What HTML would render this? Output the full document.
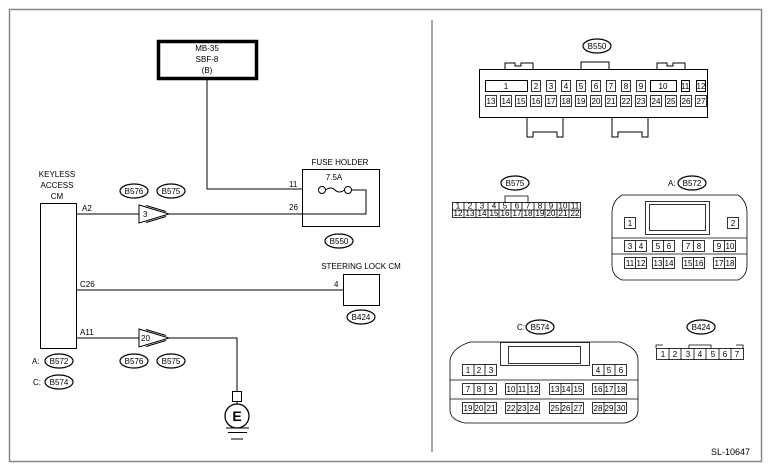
<!DOCTYPE html>
<html><head><meta charset="utf-8"><style>
html,body{margin:0;padding:0;background:#fff;width:772px;height:472px;overflow:hidden}
svg{display:block}
text{font-family:"Liberation Sans",sans-serif;font-size:8px;fill:#000}
</style></head><body>
<svg width="772" height="472" viewBox="0 0 772 472" xmlns="http://www.w3.org/2000/svg">
<rect x="9.5" y="9.5" width="752" height="452" fill="none" stroke="#888" stroke-width="1.5"/>
<line x1="432" y1="20" x2="432" y2="452" stroke="#888" stroke-width="1.5"/>
<g stroke="#000" fill="none" stroke-width="1">
<rect x="158.5" y="41.5" width="98" height="37" stroke-width="3.5"/>
<polyline points="207,80 207,189 303,189"/>
<rect x="302.5" y="169.5" width="77" height="57"/>
<circle cx="322" cy="190" r="3.5"/><circle cx="348" cy="190" r="3.5"/>
<path d="M325.5,190 Q331,186 335,190 T344.5,190"/>
<polyline points="351.5,190 366,190 366,214 303,214"/>
<line x1="76" y1="214" x2="139" y2="214"/>
<line x1="169" y1="214" x2="303" y2="214"/>
<polygon points="139,205 169,214 139,223"/>
<polyline points="146,205.5 166,211.5"/><polyline points="146,222.5 166,216.5"/>
<rect x="40.5" y="203.5" width="36" height="145"/>
<line x1="76" y1="290" x2="343" y2="290"/>
<rect x="343.5" y="274.5" width="36" height="31"/>
<line x1="76" y1="338" x2="139" y2="338"/>
<polygon points="139,329 169,338 139,347"/>
<polyline points="146,329.5 166,335.5"/><polyline points="146,346.5 166,340.5"/>
<polyline points="169,338 237,338 237,391"/>
<rect x="232.5" y="391.5" width="9" height="10"/>
<line x1="237" y1="401" x2="237" y2="404"/>
<circle cx="237" cy="416" r="12" stroke-width="1.3"/>
<line x1="226" y1="428" x2="249" y2="428"/><line x1="228" y1="432.5" x2="247" y2="432.5"/><line x1="231" y1="439" x2="243" y2="439"/>
<g stroke-width="1.2">
<ellipse cx="134" cy="191" rx="14" ry="7"/><ellipse cx="171" cy="191" rx="14" ry="7"/>
<ellipse cx="339" cy="241" rx="14" ry="7"/>
<ellipse cx="361" cy="317" rx="14" ry="7"/>
<ellipse cx="134" cy="361" rx="14" ry="7"/><ellipse cx="171" cy="361" rx="14" ry="7"/>
<ellipse cx="59" cy="361" rx="14" ry="7"/><ellipse cx="59" cy="382" rx="14" ry="7"/>
<ellipse cx="597" cy="46" rx="14" ry="7"/>
<ellipse cx="515" cy="183" rx="14" ry="7"/>
<ellipse cx="692" cy="183" rx="14" ry="7"/>
<ellipse cx="540" cy="327" rx="14" ry="7"/>
<ellipse cx="701" cy="327" rx="14" ry="7"/>
</g>
<rect x="479.5" y="69.5" width="228" height="48"/>
<polyline points="505,69 505,63 515,63 515,66 521,66 521,63 533,63 533,69"/>
<polyline points="581,69 581,62 609,62 609,69"/>
<polyline points="657,69 657,63 667,63 667,66 673,66 673,63 685,63 685,69"/>
<polyline points="527,117 527,137 533,137 533,132 557,132 557,137 563,137 563,117"/>
<polyline points="612,117 612,137 618,137 618,132 642,132 642,137 648,137 648,117"/>
<rect x="485.5" y="80.5" width="42" height="11"/>
<rect x="650.5" y="80.5" width="26" height="11"/>
<rect x="681.5" y="80.5" width="8" height="11"/><rect x="696.5" y="80.5" width="9" height="11"/>
</g>
<g stroke="#000" fill="none" stroke-width="0.8">
<rect x="531.5" y="80.5" width="9" height="11"/><rect x="546.5" y="80.5" width="9" height="11"/><rect x="561.5" y="80.5" width="9" height="11"/><rect x="576.5" y="80.5" width="9" height="11"/><rect x="591.5" y="80.5" width="9" height="11"/><rect x="606.5" y="80.5" width="9" height="11"/><rect x="621.5" y="80.5" width="9" height="11"/><rect x="636.5" y="80.5" width="9" height="11"/>
<rect x="485.5" y="95.5" width="11" height="11"/><rect x="500.5" y="95.5" width="11" height="11"/><rect x="515.5" y="95.5" width="11" height="11"/><rect x="530.5" y="95.5" width="11" height="11"/><rect x="545.5" y="95.5" width="11" height="11"/><rect x="560.5" y="95.5" width="11" height="11"/><rect x="575.5" y="95.5" width="11" height="11"/><rect x="590.5" y="95.5" width="11" height="11"/><rect x="605.5" y="95.5" width="11" height="11"/><rect x="620.5" y="95.5" width="11" height="11"/><rect x="635.5" y="95.5" width="11" height="11"/><rect x="650.5" y="95.5" width="11" height="11"/><rect x="665.5" y="95.5" width="11" height="11"/><rect x="680.5" y="95.5" width="11" height="11"/><rect x="695.5" y="95.5" width="11" height="11"/>
<rect x="452.5" y="202.5" width="128" height="15"/>
<line x1="452" y1="210" x2="580" y2="210"/>
<path d="M464,202V217M476,202V217M488,202V217M499,202V217M511,202V217M522,202V217M534,202V217M545,202V217M557,202V217M569,202V217"/>
<polyline points="505,202 505,196 528,196 528,202"/>
<path d="M622,195 L738,195 Q747,201 747,213 L747,265 Q747,276 738,280 L622,280 Q612,276 612,265 L612,213 Q612,201 622,195 Z"/>
<rect x="645.5" y="201.5" width="64" height="33"/><rect x="649.5" y="204.5" width="56" height="26"/>
<line x1="612" y1="238" x2="747" y2="238"/><line x1="612" y1="254" x2="747" y2="254"/>
<rect x="624.5" y="217.5" width="11" height="11"/><rect x="727.5" y="217.5" width="11" height="11"/>
<rect x="624.5" y="240.5" width="22" height="11"/><line x1="635.5" y1="240" x2="635.5" y2="252"/>
<rect x="652.5" y="240.5" width="22" height="11"/><line x1="663.5" y1="240" x2="663.5" y2="252"/>
<rect x="682.5" y="240.5" width="22" height="11"/><line x1="693.5" y1="240" x2="693.5" y2="252"/>
<rect x="713.5" y="240.5" width="22" height="11"/><line x1="724.5" y1="240" x2="724.5" y2="252"/>
<rect x="624.5" y="257.5" width="22" height="11"/><line x1="635.5" y1="257" x2="635.5" y2="269"/>
<rect x="652.5" y="257.5" width="22" height="11"/><line x1="663.5" y1="257" x2="663.5" y2="269"/>
<rect x="682.5" y="257.5" width="22" height="11"/><line x1="693.5" y1="257" x2="693.5" y2="269"/>
<rect x="713.5" y="257.5" width="22" height="11"/><line x1="724.5" y1="257" x2="724.5" y2="269"/>
<path d="M470,342 L620,342 Q638,348 638,360 L638,410 Q638,420 625,423 L465,423 Q450,420 450,410 L450,360 Q452,348 470,342 Z"/>
<rect x="500.5" y="342.5" width="89" height="23"/><rect x="508.5" y="346.5" width="72" height="17"/>
<line x1="450" y1="380" x2="638" y2="380"/><line x1="450" y1="399" x2="638" y2="399"/>
<rect x="462.5" y="364.5" width="34" height="11"/><path d="M474,364V376M485,364V376"/>
<rect x="592.5" y="364.5" width="34" height="11"/><path d="M604,364V376M615,364V376"/>
<rect x="462.5" y="383.5" width="34" height="11"/><path d="M474,383V395M485,383V395"/>
<rect x="505.5" y="383.5" width="34" height="11"/><path d="M517,383V395M528,383V395"/>
<rect x="549.5" y="383.5" width="34" height="11"/><path d="M561,383V395M572,383V395"/>
<rect x="592.5" y="383.5" width="34" height="11"/><path d="M604,383V395M615,383V395"/>
<rect x="462.5" y="402.5" width="34" height="11"/><path d="M474,402V414M485,402V414"/>
<rect x="505.5" y="402.5" width="34" height="11"/><path d="M517,402V414M528,402V414"/>
<rect x="549.5" y="402.5" width="34" height="11"/><path d="M561,402V414M572,402V414"/>
<rect x="592.5" y="402.5" width="34" height="11"/><path d="M604,402V414M615,402V414"/>
<rect x="656.5" y="348.5" width="87" height="11"/>
<path d="M669,348V360M681,348V360M694,348V360M706,348V360M719,348V360M731,348V360"/>
<polyline points="689,348 689,345 711,345 711,348"/>
<polyline points="656,348 656,345 663,345"/><polyline points="736,345 743,345 743,348"/>
</g>
<g text-anchor="middle">
<text x="207" y="51">MB-35</text><text x="207" y="62">SBF-8</text><text x="207" y="73">(B)</text>
<text x="340" y="165">FUSE HOLDER</text><text x="334" y="180">7.5A</text>
<text x="57" y="177">KEYLESS</text><text x="57" y="188">ACCESS</text><text x="57" y="199">CM</text>
<text x="361" y="269">STEERING LOCK CM</text>
<text x="134" y="194">B576</text><text x="171" y="194">B575</text>
<text x="339" y="244">B550</text><text x="361" y="320">B424</text>
<text x="134" y="364">B576</text><text x="171" y="364">B575</text>
<text x="59" y="364">B572</text><text x="59" y="385">B574</text>
<text x="237" y="421" style="font-size:14px;font-weight:bold">E</text>
<text x="597" y="49">B550</text><text x="515" y="186">B575</text><text x="692" y="186">B572</text>
<text x="540" y="330">B574</text><text x="701" y="330">B424</text>
</g>
<text x="82" y="211">A2</text><text x="80" y="287">C26</text><text x="80" y="335">A11</text>
<text x="289" y="187">11</text><text x="289" y="210">26</text><text x="334" y="287">4</text>
<text x="143" y="217">3</text><text x="141" y="341">20</text>
<text x="32" y="364">A:</text><text x="33" y="385">C:</text>
<text x="668" y="186">A:</text><text x="517" y="330">C:</text>
<text x="711" y="455" style="font-size:9px">SL-10647</text>
<g text-anchor="middle" style="font-size:7px">
<text x="506" y="89">1</text><text x="536" y="89">2</text><text x="551" y="89">3</text><text x="566" y="89">4</text><text x="581" y="89">5</text><text x="596" y="89">6</text><text x="611" y="89">7</text><text x="626" y="89">8</text><text x="641" y="89">9</text><text x="663" y="89">10</text><text x="685" y="89">11</text><text x="701" y="89">12</text>
<text x="491" y="104">13</text><text x="506" y="104">14</text><text x="521" y="104">15</text><text x="536" y="104">16</text><text x="551" y="104">17</text><text x="566" y="104">18</text><text x="581" y="104">19</text><text x="596" y="104">20</text><text x="611" y="104">21</text><text x="626" y="104">22</text><text x="641" y="104">23</text><text x="656" y="104">24</text><text x="671" y="104">25</text><text x="686" y="104">26</text><text x="701" y="104">27</text>
<text x="630" y="226">1</text><text x="733" y="226">2</text>
<text x="630" y="249">3</text><text x="641" y="249">4</text><text x="658" y="249">5</text><text x="669" y="249">6</text><text x="688" y="249">7</text><text x="699" y="249">8</text><text x="719" y="249">9</text><text x="730" y="249">10</text>
<text x="630" y="266">11</text><text x="641" y="266">12</text><text x="658" y="266">13</text><text x="669" y="266">14</text><text x="688" y="266">15</text><text x="699" y="266">16</text><text x="719" y="266">17</text><text x="730" y="266">18</text>
<text x="468" y="373">1</text><text x="479" y="373">2</text><text x="491" y="373">3</text><text x="598" y="373">4</text><text x="609" y="373">5</text><text x="621" y="373">6</text>
<text x="468" y="392">7</text><text x="479" y="392">8</text><text x="491" y="392">9</text><text x="511" y="392">10</text><text x="522" y="392">11</text><text x="534" y="392">12</text><text x="555" y="392">13</text><text x="566" y="392">14</text><text x="578" y="392">15</text><text x="598" y="392">16</text><text x="609" y="392">17</text><text x="621" y="392">18</text>
<text x="468" y="411">19</text><text x="479" y="411">20</text><text x="491" y="411">21</text><text x="511" y="411">22</text><text x="522" y="411">23</text><text x="534" y="411">24</text><text x="555" y="411">25</text><text x="566" y="411">26</text><text x="578" y="411">27</text><text x="598" y="411">28</text><text x="609" y="411">29</text><text x="621" y="411">30</text>
<text x="663" y="357">1</text><text x="675" y="357">2</text><text x="688" y="357">3</text><text x="700" y="357">4</text><text x="713" y="357">5</text><text x="725" y="357">6</text><text x="737" y="357">7</text>
</g>
<g text-anchor="middle" style="font-size:6px">
<text x="458" y="208.5">1</text><text x="470" y="208.5">2</text><text x="482" y="208.5">3</text><text x="494" y="208.5">4</text><text x="505" y="208.5">5</text><text x="517" y="208.5">6</text><text x="528" y="208.5">7</text><text x="540" y="208.5">8</text><text x="551" y="208.5">9</text><text x="563" y="208.5">10</text><text x="575" y="208.5">11</text>
<text x="458" y="216">12</text><text x="470" y="216">13</text><text x="482" y="216">14</text><text x="494" y="216">15</text><text x="505" y="216">16</text><text x="517" y="216">17</text><text x="528" y="216">18</text><text x="540" y="216">19</text><text x="551" y="216">20</text><text x="563" y="216">21</text><text x="575" y="216">22</text>
</g>
</svg>
</body></html>
